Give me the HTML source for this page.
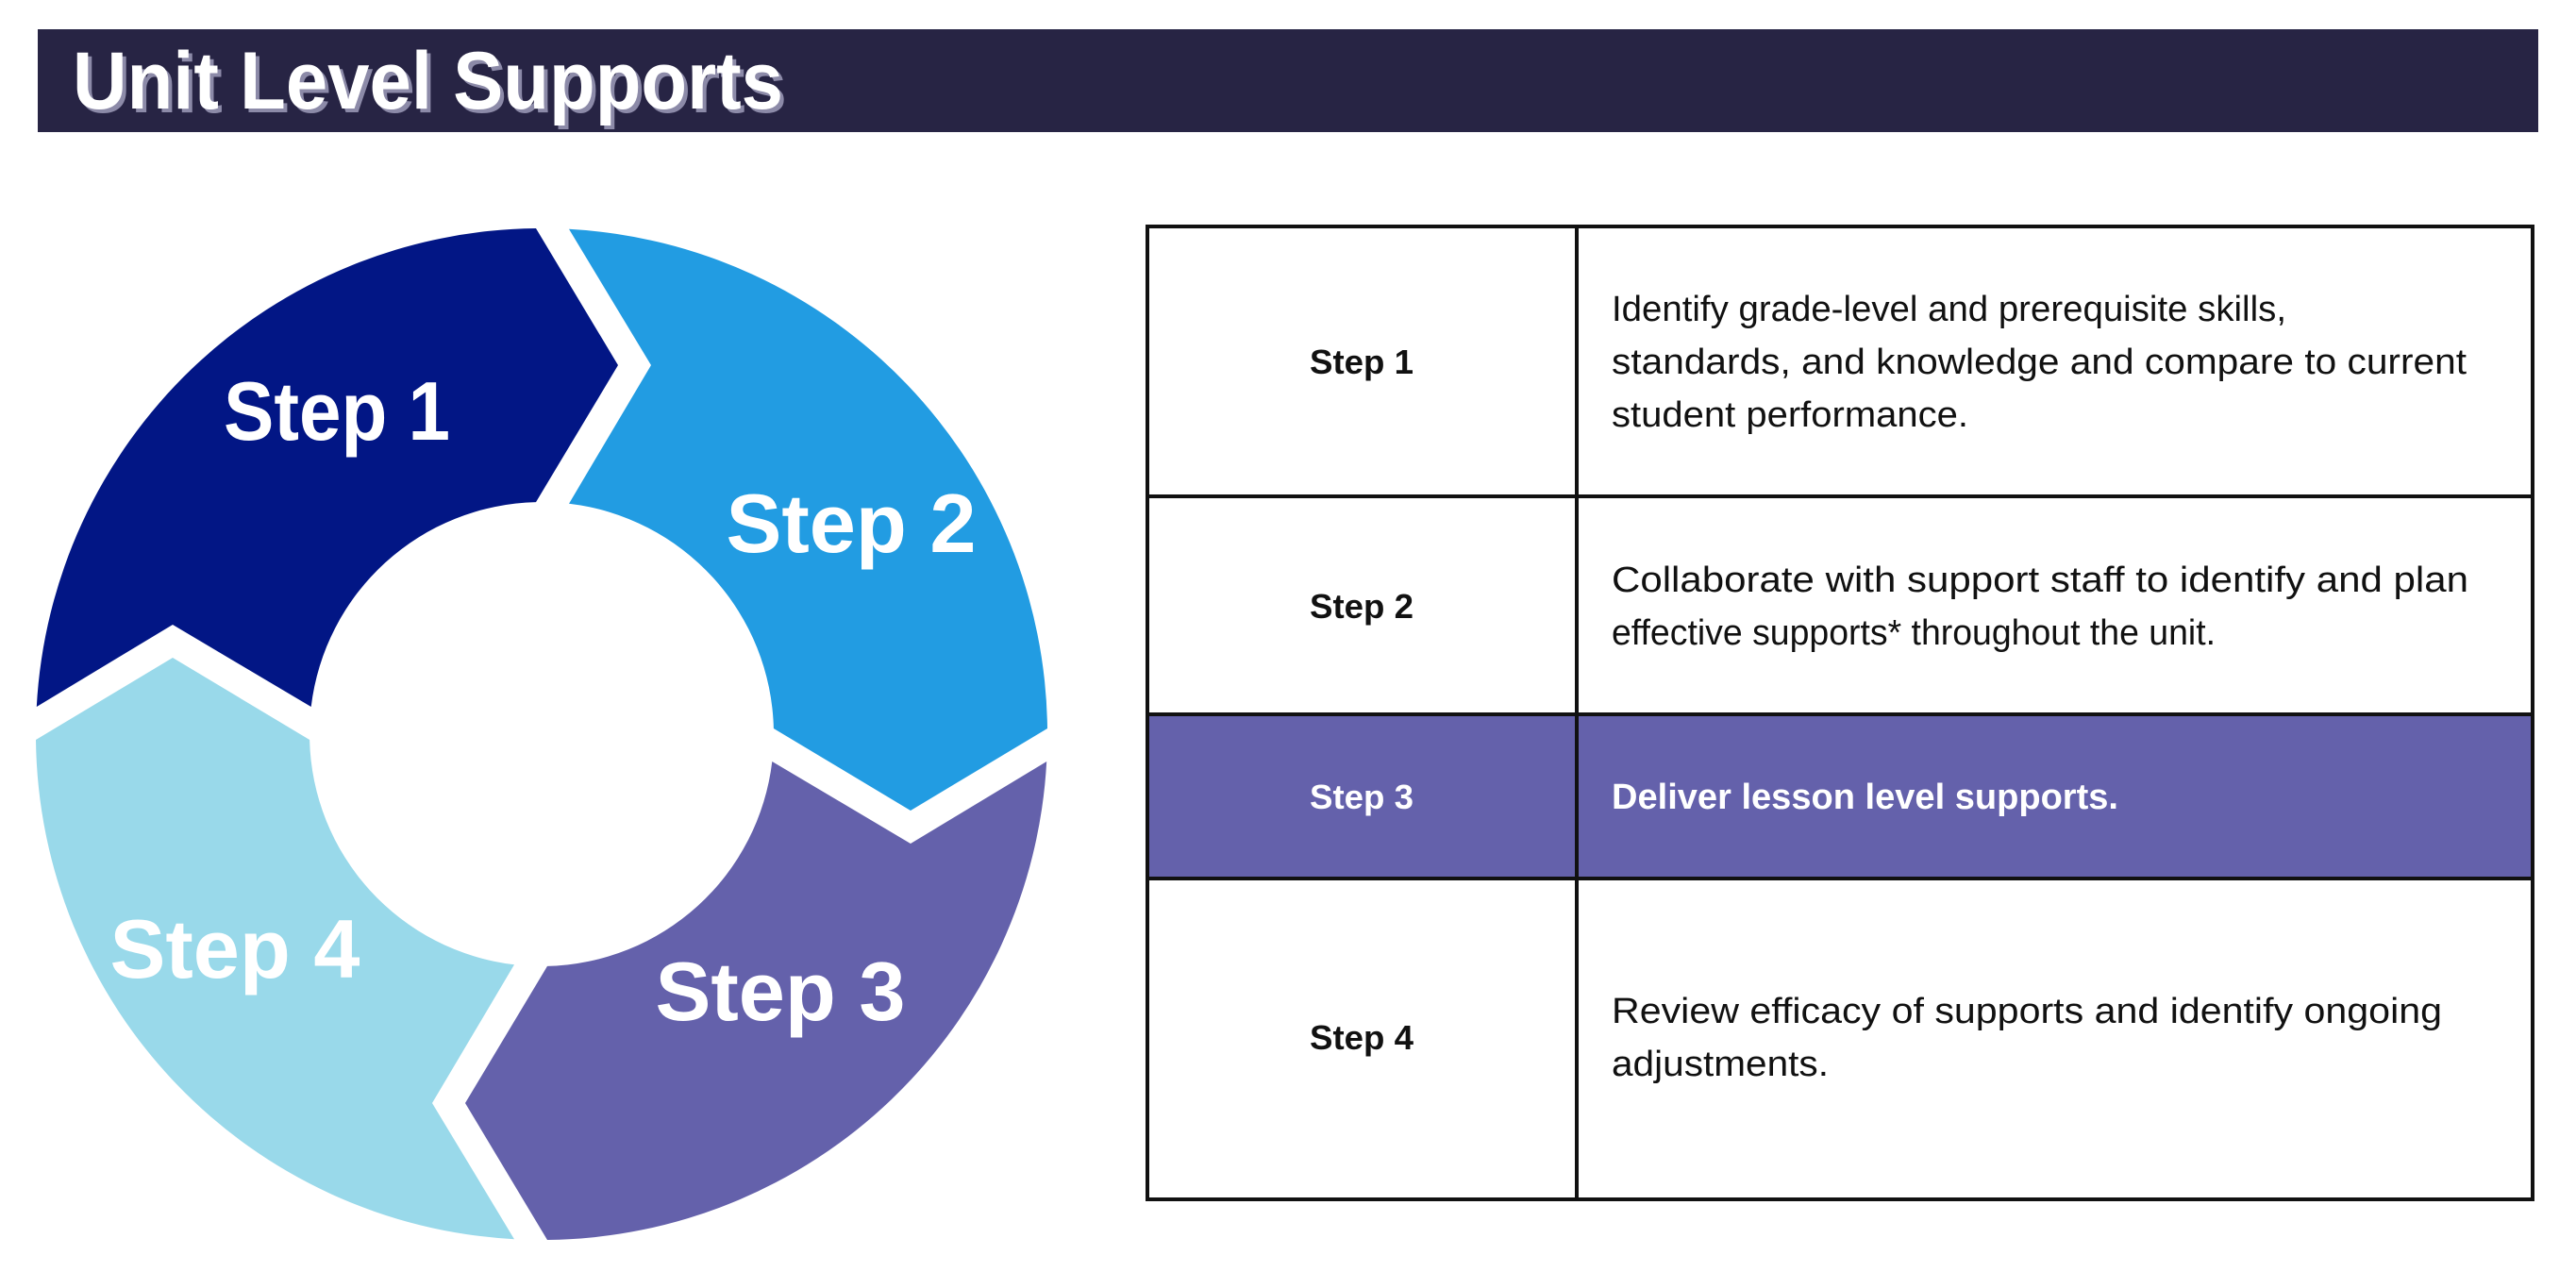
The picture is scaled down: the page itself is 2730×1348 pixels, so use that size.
<!DOCTYPE html>
<html><head><meta charset="utf-8"><style>
html,body{margin:0;padding:0;background:#fff;}
svg{display:block;}
text{font-family:"Liberation Sans",sans-serif;}
</style></head><body>
<svg width="2730" height="1348" viewBox="0 0 2730 1348" xmlns="http://www.w3.org/2000/svg">
<rect x="0" y="0" width="2730" height="1348" fill="#fff"/>
<rect x="40" y="31" width="2650" height="109" fill="#272444"/>
<text x="81" y="119" font-size="86" font-weight="bold" fill="#8c8aa8" textLength="753" lengthAdjust="spacingAndGlyphs">Unit Level Supports</text>
<text x="77" y="115" font-size="86" font-weight="bold" fill="#fff" textLength="753" lengthAdjust="spacingAndGlyphs">Unit Level Supports</text>

<g transform="translate(574,778)">
  <defs>
    <path id="seg" d="M -535.2 -29 A 536 536 0 0 1 -6 -536 L 81 -391 L -6 -245.9 A 246 246 0 0 0 -244.3 -29 L -391 -116 Z"/>
  </defs>
  <use href="#seg" fill="#021685"/>
  <use href="#seg" fill="#229ce2" transform="rotate(90)"/>
  <use href="#seg" fill="#6461ab" transform="rotate(180)"/>
  <use href="#seg" fill="#99d9ea" transform="rotate(270)"/>
</g>
<g font-size="88" font-weight="bold" fill="#fff" text-anchor="middle">
<text x="357" y="466" textLength="240" lengthAdjust="spacingAndGlyphs">Step 1</text>
<text x="902" y="585" textLength="265" lengthAdjust="spacingAndGlyphs">Step 2</text>
<text x="827" y="1081" textLength="265" lengthAdjust="spacingAndGlyphs">Step 3</text>
<text x="249" y="1036" textLength="265" lengthAdjust="spacingAndGlyphs">Step 4</text>
</g>

<rect x="1215" y="757" width="1470" height="174" fill="#6461ab"/>
<g stroke="#111" stroke-width="4" fill="none">
<rect x="1216" y="240" width="1468" height="1031"/>
<line x1="1671" y1="240" x2="1671" y2="1271"/>
<line x1="1216" y1="526" x2="2684" y2="526"/>
<line x1="1216" y1="757" x2="2684" y2="757"/>
<line x1="1216" y1="931" x2="2684" y2="931"/>
</g>
<g font-size="36" font-weight="bold" text-anchor="middle">
<text x="1443" y="396" fill="#111" textLength="110" lengthAdjust="spacingAndGlyphs">Step 1</text>
<text x="1443" y="655" fill="#111" textLength="110" lengthAdjust="spacingAndGlyphs">Step 2</text>
<text x="1443" y="857" fill="#fff" textLength="110" lengthAdjust="spacingAndGlyphs">Step 3</text>
<text x="1443" y="1112" fill="#111" textLength="110" lengthAdjust="spacingAndGlyphs">Step 4</text>
</g>
<g font-size="38" fill="#111">
<text x="1708" y="340" textLength="715" lengthAdjust="spacingAndGlyphs">Identify grade-level and prerequisite skills,</text>
<text x="1708" y="396" textLength="906" lengthAdjust="spacingAndGlyphs">standards, and knowledge and compare to current</text>
<text x="1708" y="452" textLength="378" lengthAdjust="spacingAndGlyphs">student performance.</text>
<text x="1708" y="627" textLength="908" lengthAdjust="spacingAndGlyphs">Collaborate with support staff to identify and plan</text>
<text x="1708" y="683" textLength="640" lengthAdjust="spacingAndGlyphs">effective supports* throughout the unit.</text>
<text x="1708" y="857" fill="#fff" font-weight="bold" textLength="537" lengthAdjust="spacingAndGlyphs">Deliver lesson level supports.</text>
<text x="1708" y="1084" textLength="880" lengthAdjust="spacingAndGlyphs">Review efficacy of supports and identify ongoing</text>
<text x="1708" y="1140" textLength="230" lengthAdjust="spacingAndGlyphs">adjustments.</text>
</g>
</svg>
</body></html>
